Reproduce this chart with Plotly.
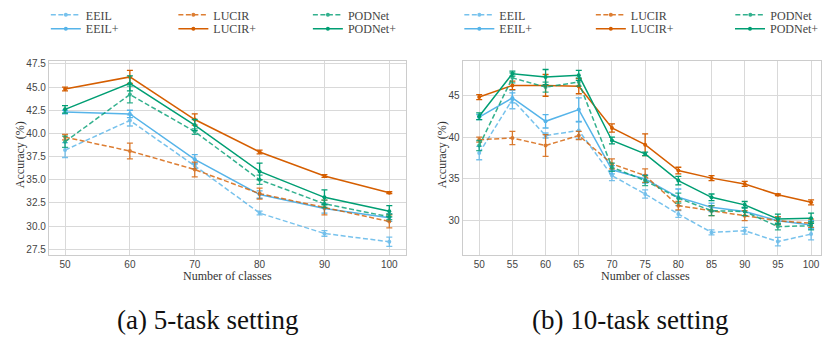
import plotly.graph_objects as go

# ---------------- data ----------------
classes_5 = [50, 60, 70, 80, 90, 100]
classes_10 = [50, 55, 60, 65, 70, 75, 80, 85, 90, 95, 100]

methods = ["EEIL", "EEIL+", "LUCIR", "LUCIR+", "PODNet", "PODNet+"]

# 5-task setting
eeil_5 = [38.2, 41.4, 36.5, 31.4, 29.2, 28.3]
eeil_5_err = [0.8, 0.6, 0.3, 0.2, 0.3, 0.5]
eeilp_5 = [42.3, 42.1, 37.2, 33.4, 31.9, 30.9]
eeilp_5_err = [0.2, 0.4, 0.5, 0.4, 0.5, 0.4]
lucir_5 = [39.6, 38.1, 36.1, 33.5, 32.0, 30.5]
lucir_5_err = [0.3, 0.85, 0.8, 0.6, 0.8, 0.7]
lucirp_5 = [44.8, 46.1, 41.5, 38.0, 35.4, 33.6]
lucirp_5_err = [0.2, 0.7, 0.6, 0.2, 0.15, 0.1]
podnet_5 = [39.1, 44.2, 40.2, 35.0, 32.4, 31.0]
podnet_5_err = [0.6, 0.9, 0.3, 0.5, 0.4, 0.3]
podnetp_5 = [42.6, 45.4, 40.9, 35.9, 33.1, 31.6]
podnetp_5_err = [0.4, 0.8, 0.6, 0.9, 0.8, 0.6]

# 10-task setting
eeil_10 = [38.1, 44.5, 40.2, 40.8, 35.4, 33.2, 30.8, 28.6, 28.8, 27.5, 28.4]
eeil_10_err = [0.8, 1.1, 0.3, 1.0, 0.6, 0.5, 0.4, 0.3, 0.4, 0.5, 0.7]
eeilp_10 = [42.4, 44.7, 41.9, 43.3, 36.1, 35.0, 32.8, 31.6, 31.1, 30.0, 29.5]
eeilp_10_err = [0.3, 0.6, 0.8, 1.4, 0.5, 0.5, 1.0, 0.5, 0.5, 0.4, 0.5]
lucir_10 = [39.7, 39.9, 39.0, 40.2, 36.8, 35.4, 31.8, 31.2, 30.6, 30.0, 29.7]
lucir_10_err = [0.3, 0.8, 1.3, 0.5, 0.6, 0.8, 0.5, 0.6, 0.6, 0.5, 0.5]
lucirp_10 = [44.8, 46.2, 46.2, 46.1, 41.1, 39.1, 36.0, 35.1, 34.4, 33.1, 32.2]
lucirp_10_err = [0.3, 0.5, 1.3, 0.9, 0.5, 1.3, 0.4, 0.3, 0.3, 0.1, 0.3]
podnet_10 = [39.0, 47.1, 46.0, 46.6, 36.4, 34.8, 32.7, 31.2, 31.1, 29.3, 29.4]
podnet_10_err = [0.6, 0.6, 0.6, 0.5, 0.5, 0.6, 0.6, 0.6, 0.5, 0.4, 0.5]
podnetp_10 = [42.5, 47.6, 47.2, 47.4, 39.6, 38.0, 34.8, 32.8, 31.9, 30.2, 30.3]
podnetp_10_err = [0.4, 0.3, 0.9, 0.6, 0.4, 0.2, 0.5, 0.4, 0.4, 0.6, 0.6]

yticks_5 = [27.5, 30.0, 32.5, 35.0, 37.5, 40.0, 42.5, 45.0, 47.5]
yticks_10 = [30, 35, 40, 45]

x_title = "Number of classes"
y_title = "Accuracy (%)"
captions = ["(a) 5-task setting", "(b) 10-task setting"]

# ---------------- styling ----------------
W, H = 824, 337
colors = {"EEIL": "#56B4E9", "LUCIR": "#D55E00", "PODNet": "#009E73"}
SERIF = "Liberation Serif"
SANS = "Liberation Sans"


def px(x):
    return x / W


def py(y):
    return 1 - y / H


series_5 = [(eeil_5, eeil_5_err), (eeilp_5, eeilp_5_err), (lucir_5, lucir_5_err),
            (lucirp_5, lucirp_5_err), (podnet_5, podnet_5_err), (podnetp_5, podnetp_5_err)]
series_10 = [(eeil_10, eeil_10_err), (eeilp_10, eeilp_10_err), (lucir_10, lucir_10_err),
             (lucirp_10, lucirp_10_err), (podnet_10, podnet_10_err), (podnetp_10, podnetp_10_err)]

# legend positions (pixels): left edge of each column, row centres
legend_cols = {0: [46, 174, 309], 1: [461, 593, 733]}
legend_rows = [10, 24]

fig = go.Figure()
legend_layouts = {}
lid = 1
for panel, (xs, series) in enumerate([(classes_5, series_5), (classes_10, series_10)]):
    xa = "x" if panel == 0 else "x2"
    ya = "y" if panel == 0 else "y2"
    for i, (name, (vals, errs)) in enumerate(zip(methods, series)):
        base = name.rstrip("+")
        plus = name.endswith("+")
        col = colors[base]
        lname = "legend" if lid == 1 else f"legend{lid}"
        fig.add_trace(go.Scatter(
            x=xs, y=vals, name=name, mode="lines+markers",
            xaxis=xa, yaxis=ya,
            line=dict(color=col, width=1.5, dash=None if plus else "5px,2.5px"),
            marker=dict(color=col, size=4),
            opacity=1.0 if plus else 0.8,
            error_y=dict(type="data", array=errs, visible=True, color=col,
                         thickness=1.3, width=3),
            legend=lname, showlegend=True,
        ))
        c = i // 2
        r = i % 2
        legend_layouts[lname] = dict(
            x=px(legend_cols[panel][c]), xanchor="left",
            y=py(legend_rows[r]), yanchor="middle",
            bgcolor="rgba(0,0,0,0)", borderwidth=0,
            font=dict(family=SERIF, size=12, color="#444"),
            itemwidth=30,
        )
        lid += 1

axis_common = dict(
    showgrid=True, gridcolor="#d9d9d9", gridwidth=1,
    showline=True, linecolor="#cccccc", linewidth=1, mirror=True,
    zeroline=False, ticks="",
    tickfont=dict(family=SANS, size=10, color="#444"),
)

ydom = [py(254), py(57)]
fig.update_layout(
    width=W, height=H,
    margin=dict(l=0, r=0, t=0, b=0),
    paper_bgcolor="white", plot_bgcolor="white",
    xaxis=dict(domain=[px(49), px(407)], range=[47.5, 102.5],
               tickvals=classes_5, anchor="y", **axis_common),
    yaxis=dict(domain=ydom, range=[26.85, 47.8], tickvals=yticks_5,
               ticktext=[f"{v:.1f}" for v in yticks_5], anchor="x", **axis_common),
    xaxis2=dict(domain=[px(464.3), px(823.5)], range=[47.5, 101.42],
                tickvals=classes_10, anchor="y2", **axis_common),
    yaxis2=dict(domain=ydom, range=[25.87, 49.1], tickvals=yticks_10, anchor="x2",
                **axis_common),
    **legend_layouts,
)

annos = [
    dict(x=px(228), y=py(275), text=x_title, font=dict(family=SERIF, size=12, color="#333")),
    dict(x=px(647.5), y=py(275), text=x_title, font=dict(family=SERIF, size=12, color="#333")),
    dict(x=px(19.5), y=py(152), text=y_title, textangle=-90, font=dict(family=SERIF, size=12, color="#333")),
    dict(x=px(443), y=py(152), text=y_title, textangle=-90, font=dict(family=SERIF, size=12, color="#333")),
    dict(x=px(208.5), y=py(320), text=captions[0], font=dict(family=SERIF, size=27, color="#111")),
    dict(x=px(632), y=py(320), text=captions[1], font=dict(family=SERIF, size=27, color="#111")),
]
for a in annos:
    fig.add_annotation(xref="paper", yref="paper", xanchor="center", yanchor="middle",
                       showarrow=False, **a)

# remove the default 8px page margin so the figure sits at the window origin
fig.write_html("out.html", config={"displayModeBar": False},
               post_script="document.body.style.margin='0px';")
